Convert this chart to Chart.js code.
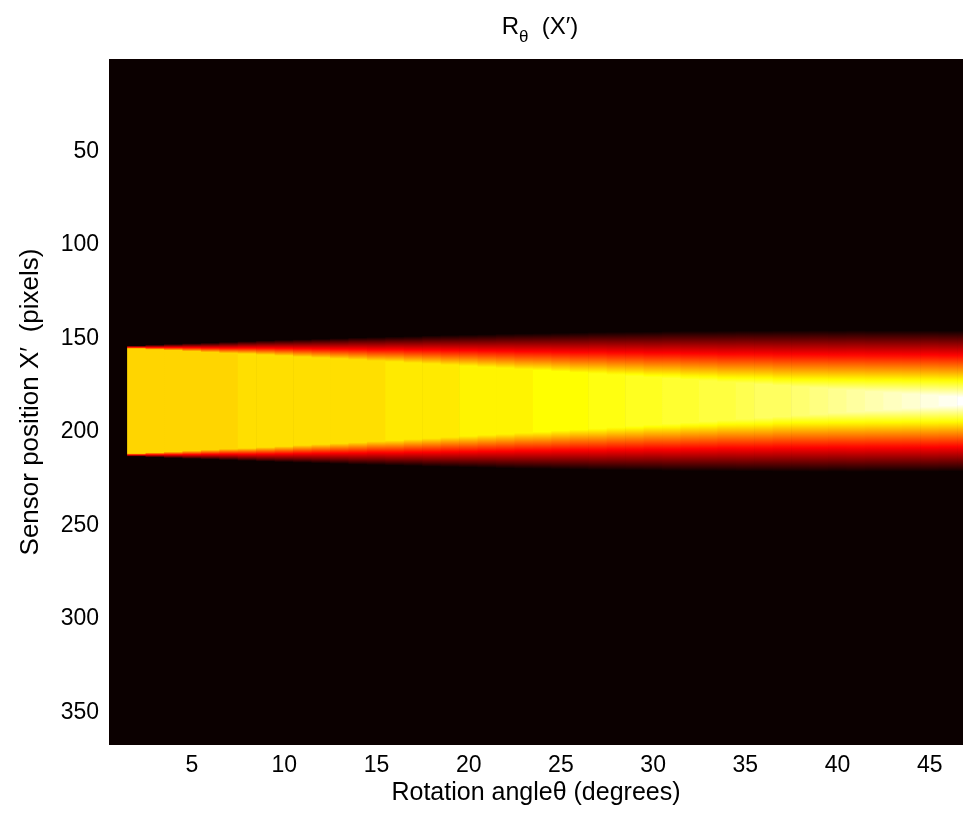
<!DOCTYPE html>
<html>
<head>
<meta charset="utf-8">
<script src="https://cdn.jsdelivr.net/npm/chart.js@4.4.0/dist/chart.umd.min.js"></script>
<style>
html,body{margin:0;padding:0;background:#fff;}
</style>
</head>
<body>
<canvas id="radon" width="963" height="817"></canvas>
<script>
// Projection angle of each image column (degrees)
const angles = [2,3,4,5,6,7,8,9,10,11,12,13,14,15,16,17,18,19,20,21,22,23,24,
  25,26,27,28,29,30,31,32,33,34,35,36,37,38,39,40,41,42,43,44,45,46,47];
// Sensor position (pixels) where the flat top of the projection starts / ends
const plateauTop = [155.5,156.0,156.4,156.9,157.4,157.9,158.3,158.8,159.3,159.9,160.4,160.9,
  161.4,162.0,162.5,163.1,163.6,164.2,164.8,165.4,165.9,166.5,167.1,167.7,168.3,168.9,169.5,
  170.2,170.8,171.4,172.0,172.7,173.3,173.9,174.6,175.2,175.9,176.5,177.2,177.8,178.5,179.1,
  179.8,180.4,181.1,181.7];
const plateauBottom = [211.5,211.0,210.6,210.1,209.6,209.1,208.7,208.2,207.7,207.1,206.6,206.1,
  205.6,205.0,204.5,203.9,203.4,202.8,202.2,201.6,201.1,200.5,199.9,199.3,198.7,198.1,197.5,
  196.8,196.2,195.6,195.0,194.3,193.7,193.1,192.4,191.8,191.1,190.5,189.8,189.2,188.5,187.9,
  187.2,186.6,185.9,185.3];
// Length of the sloped edge on each side of the plateau (pixels)
const edgeWidth = [1.7,2.6,3.4,4.3,5.1,6.0,6.8,7.7,8.5,9.4,10.2,11.0,11.9,12.7,13.5,14.3,15.2,
  16.0,16.8,17.6,18.4,19.2,19.9,20.7,21.5,22.3,23.0,23.8,24.5,25.3,26.0,26.7,27.4,28.1,28.8,
  29.5,30.2,30.9,31.5,32.2,32.8,33.4,34.1,34.7,35.3,35.9];
// Colormap level (hot, 1..64) reached on the plateau
const peakLevel = [44,44,44,44,44,44,45,45,45,45,45,45,45,45,46,46,46,46,47,47,47,47,48,48,48,
  49,49,50,50,51,51,52,52,53,54,54,55,56,57,58,59,60,61,62,63,64];

const xTicks = [5,10,15,20,25,30,35,40,45];
const yTicks = [50,100,150,200,250,300,350];

const FONT = '"Liberation Sans", Arial, sans-serif';

// MATLAB hot colormap, level 1..64
function hot(level) {
  const clamp = v => Math.max(0, Math.min(1, v));
  const r = clamp(level / 24), g = clamp((level - 24) / 24), b = clamp((level - 48) / 16);
  return `rgb(${Math.round(r * 255)},${Math.round(g * 255)},${Math.round(b * 255)})`;
}

// vertical gradient for one column, built from the y scale
function columnFill(ctx) {
  const chart = ctx.chart;
  if (!chart.chartArea || ctx.dataIndex === undefined) return hot(1);
  const i = ctx.dataIndex;
  const y = chart.scales.y;
  const top = plateauTop[i], bot = plateauBottom[i], w = edgeWidth[i], pk = peakLevel[i];
  const y0 = y.getPixelForValue(top - w), y3 = y.getPixelForValue(bot + w);
  const span = y3 - y0;
  const g = chart.ctx.createLinearGradient(0, y0, 0, y3);
  const steps = 24;
  for (let k = 0; k <= steps; k++) {
    const lvl = 1 + (pk - 1) * k / steps;
    const pTop = (y.getPixelForValue(top - w + w * k / steps) - y0) / span;
    const pBot = (y.getPixelForValue(bot + w - w * k / steps) - y0) / span;
    g.addColorStop(Math.min(1, Math.max(0, pTop)), hot(lvl));
    g.addColorStop(Math.min(1, Math.max(0, pBot)), hot(lvl));
  }
  return g;
}

const plotBg = {
  id: 'plotBg',
  beforeDatasetsDraw(chart) {
    const {ctx, chartArea: a} = chart;
    ctx.save();
    ctx.fillStyle = hot(1);
    ctx.fillRect(a.left, a.top, a.right - a.left, a.bottom - a.top);
    ctx.restore();
  }
};

// title with a subscript theta
const subTitle = {
  id: 'subTitle',
  afterDraw(chart) {
    const {ctx, chartArea: a} = chart;
    const big = '24px ' + FONT, small = '17px ' + FONT;
    ctx.save();
    ctx.fillStyle = '#000';
    ctx.textBaseline = 'alphabetic';
    ctx.textAlign = 'left';
    ctx.font = big;
    const wR = ctx.measureText('R').width, wRest = ctx.measureText('  (X\u2032)').width;
    ctx.font = small;
    const wT = ctx.measureText('\u03b8').width;
    let x = (a.left + a.right) / 2 - (wR + wT + wRest) / 2 + 4;
    const base = 34;
    ctx.font = big; ctx.fillText('R', x, base); x += wR;
    ctx.font = small; ctx.fillText('\u03b8', x, base + 8); x += wT;
    ctx.font = big; ctx.fillText('  (X\u2032)', x, base);
    ctx.restore();
  }
};

new Chart(document.getElementById('radon'), {
  type: 'bar',
  data: {
    datasets: [{
      data: angles.map((a, i) => ({x: a, y: [plateauTop[i] - edgeWidth[i], plateauBottom[i] + edgeWidth[i]]})),
      backgroundColor: columnFill,
      borderWidth: 0,
      barPercentage: 1,
      categoryPercentage: 1
    }]
  },
  options: {
    responsive: false,
    animation: false,
    devicePixelRatio: 1,
    layout: {padding: {top: 59, right: 0, left: 0, bottom: 0}},
    plugins: {legend: {display: false}, tooltip: {enabled: false}},
    scales: {
      x: {
        type: 'linear', min: 0.5, max: 46.8, offset: false,
        afterBuildTicks: s => { s.ticks = xTicks.map(v => ({value: v})); },
        afterFit: s => { s.height = 72; },
        grid: {display: false, drawTicks: false},
        border: {display: false},
        ticks: {color: '#000', padding: 7, maxRotation: 0, font: {family: FONT, size: 23}},
        title: {display: true, text: 'Rotation angle\u03b8 (degrees)', color: '#000',
                font: {family: FONT, size: 25}, padding: {top: 0, bottom: 9}}
      },
      y: {
        type: 'linear', reverse: true, min: 0.5, max: 367.5,
        afterBuildTicks: s => { s.ticks = yTicks.map(v => ({value: v})); },
        afterFit: s => { s.width = 109; },
        grid: {display: false, drawTicks: false},
        border: {display: false},
        ticks: {color: '#000', padding: 10, font: {family: FONT, size: 23}},
        title: {display: true, text: 'Sensor position X\u2032  (pixels)', color: '#000',
                font: {family: FONT, size: 26}, padding: {top: 15, bottom: 0}}
      }
    }
  },
  plugins: [plotBg, subTitle]
});
</script>
</body>
</html>
